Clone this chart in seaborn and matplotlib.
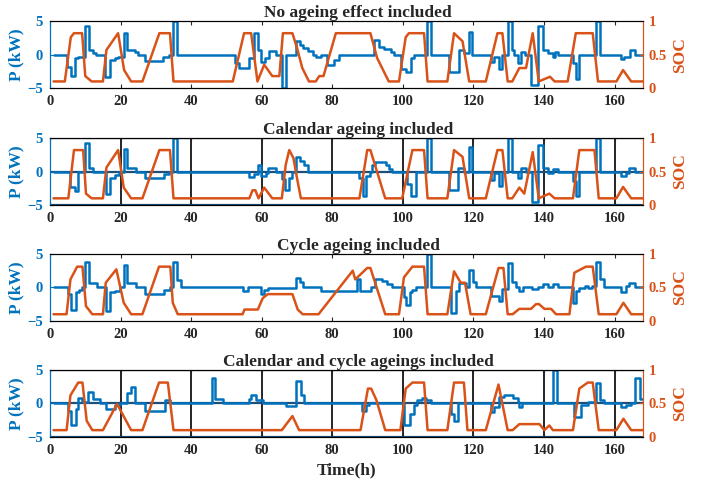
import matplotlib
matplotlib.use('Agg')
import matplotlib.pyplot as plt
import seaborn as sns

sns.set_style('ticks')
plt.rcParams['font.family'] = ['Liberation Serif', 'DejaVu Serif']
plt.rcParams['font.weight'] = 'bold'

BLUE = '#0072BD'
ORANGE = '#D95319'

# ---- datos (P en kW, escalon; SOC lineal) ----
titles = ['No ageing effect included', 'Calendar ageing included',
          'Cycle ageing included', 'Calendar and cycle ageings included']

# Panel 1
p1_t = [1, 4.7, 5.9, 7, 8, 9.9, 11.1, 12.2, 13, 15.5, 17, 18.4, 19.3, 20.9, 21.9, 24, 25, 27, 32, 33.8,
        34.8, 36, 52.5, 53.7, 56.3, 57.7, 58.9, 59.8, 61, 62.1, 64, 65.7, 67, 69.7, 70.9, 71.8, 73, 74.4,
        75.3, 76.7, 78.6, 80.5, 82, 91.9, 93.2, 94.6, 96.5, 97.5, 99.6, 100.8, 102.2, 103.1, 106.7, 107.9,
        113, 115.9, 117.3, 118.8, 119.7, 125, 125.9, 127.1, 128.2, 129.9, 130.9, 131.5, 132.5, 133.5,
        134.5, 136.3, 138.3, 139.6, 141, 142.5, 143, 143.9, 148.2, 149.1, 150, 154.8, 155.9, 161.9,
        162.8, 164.3, 165.7, 168]
p1_v = [0, -1.8, -3.2, -0.5, -0.3, 4.3, 0.7, 0.2, 0, -3.3, -0.8, -0.55, -0.3, 3.3, 0.7, 0.45, 0, -0.9, -0.3, 0,
        5, 0, -1.3, -2, -0.5, 3.2, 0.7, -1.1, -0.5, 0.5, 0, -5, 0, 2, 1.5, 1, 0.6, 0,
        -0.3, 0, -1.6, -0.8, 0, 2.2, 1.2, 0.8, 0.45, 0, -2.1, -2.6, -0.55, 0, 5, 0,
        -2.6, 0.7, 0.2, 3.4, 0, -1.1, -0.3, -2.1, 0, 5, 0.7, 0, -1.3, 0.45,
        0, -4.6, 4.3, 0.7, 0.2, -0.3, 0.45, 0, -1.3, -3.6, 0, 5, 0, -0.7,
        -0.3, 0.7, 0, 0]
soc1_t = [1, 4.2, 5.9, 6.8, 9.1, 10, 11.8, 15, 16, 19.3, 21, 23, 26.2, 31, 34, 35, 51.8, 55, 57, 58.8,
          60.7, 63, 65, 66, 68.7, 70, 71.5, 73.4, 75.3, 76.3, 77.5, 81, 90.8, 92.7, 96, 98.9, 100.8,
          101.7, 106, 107, 112.6, 114.5, 116.9, 118.8, 123.5, 126.8, 128.2, 129.7, 131, 133, 134.9,
          136.8, 138.5, 141.7, 143, 146.7, 149, 153.8, 155.3, 160.5, 162.4, 164.7, 168]
soc1_v = [0.1, 0.1, 0.76, 0.82, 0.82, 0.18, 0.1, 0.1, 0.57, 0.82, 0.27, 0.1, 0.1, 0.82, 0.82, 0.1, 0.1, 0.82, 0.82, 0.1,
          0.35, 0.18, 0.18, 0.82, 0.82, 0.6, 0.3, 0.1, 0.1, 0.18, 0.18, 0.82, 0.82, 0.45, 0.1, 0.1, 0.76,
          0.82, 0.82, 0.1, 0.1, 0.82, 0.7, 0.1, 0.1, 0.82, 0.82, 0.1, 0.1, 0.3, 0.3,
          0.82, 0.1, 0.17, 0.1, 0.1, 0.82, 0.82, 0.1, 0.1, 0.27, 0.1, 0.1]

# Panel 2
p2_t = [1, 5.6, 7.1, 8, 9.9, 11.1, 12.2, 15.8, 17, 18.4, 19.6, 20.9, 21.9, 24.3, 27, 32.2, 33.8, 34.8, 36.1,
        56.5, 57.9, 58.9, 59.8, 61.2, 61.7, 64, 65.7, 66.6, 67.8, 68.7, 69.7, 70.8, 71.9, 73, 87.5, 88.6,
        89.6, 90.8, 91.2, 92.2, 95.1, 96, 97, 101.2, 102.2, 103.6, 106.7, 107.9, 113.1, 115.5, 117.3,
        118.6, 119.7, 124.9, 125.9, 127.1, 128.2, 129.7, 130.8, 132.7, 133.6, 134.9, 136.6, 138.2,
        139.6, 141, 142.5, 143.9, 148.2, 149.1, 150, 154.8, 155.9, 161.9, 163.1, 164.1, 165.7, 168]
p2_v = [0, -2.3, -2.9, 0, 4.3, 0.5, 0, -3.3, -0.9, -0.5, 0, 3.4, 0.6, 0, -0.9, -0.4, 0, 5, 0,
        -0.8, -0.3, 0.9, -0.65, -0.2, 0.5, 0, -1.1, -2.8, -0.9, 0, 2.1, 1.6, 1, 0, -0.9, -3.7,
        -0.6, 0, 1, 1.4, 0.95, 0.45, 0, -1.9, -3.7, 0, 5, 0, -2.7, 0.6, 0,
        3.6, 0, -1.2, -0.2, -2.2, 0, 5, 0, -0.9, 0.6, 0, -4.6, 3.9,
        0.6, -0.15, 0.35, 0, -1.4, -3.6, 0, 5, 0, -0.65, -0.15, 0.6, 0, 0]
soc2_t = [1, 5.2, 6.8, 9.4, 10.2, 11.8, 15, 16, 19.3, 20.9, 23, 26.2, 31, 34, 35, 56.5, 57.4, 58.2, 59.1,
          60.7, 63, 65.7, 66.8, 67.8, 69, 70, 71.1, 87.7, 89.9, 90.8, 95, 99.8, 102.7, 106, 107, 112.6,
          114.5, 116.9, 118.8, 123.5, 126.8, 128.2, 129.7, 131, 133, 134.4, 136.8, 138.5, 141.5, 143,
          148.2, 150, 154.3, 155.5, 160.5, 162.4, 164.7, 168]
soc2_v = [0.1, 0.1, 0.82, 0.82, 0.17, 0.1, 0.1, 0.56, 0.82, 0.26, 0.1, 0.1, 0.82, 0.82, 0.1, 0.1, 0.22, 0.22, 0.1,
          0.26, 0.1, 0.1, 0.6, 0.82, 0.7, 0.4, 0.1, 0.1, 0.82, 0.82, 0.1, 0.1, 0.82, 0.82, 0.1, 0.1,
          0.82, 0.72, 0.1, 0.1, 0.82, 0.82, 0.1, 0.1, 0.26, 0.17, 0.79, 0.1, 0.17, 0.1,
          0.1, 0.82, 0.82, 0.1, 0.1, 0.27, 0.1, 0.1]

# Panel 3
p3_t = [1, 5.2, 5.9, 7.3, 8.3, 9.2, 9.9, 11.1, 13.2, 15.8, 17, 18.4, 19.8, 20.9, 21.9, 24.5, 27, 32.2, 34.1,
        34.8, 36.1, 37.2, 54.6, 56, 59.8, 60.7, 61.7, 69.7, 70.9, 71.8, 76.7, 87, 87.9, 91.1, 92.2, 94.1,
        95.5, 97, 100.3, 100.8, 101.9, 102.7, 103.8, 106.7, 107.9, 113.6, 115, 115.9, 118, 118.8, 119.9,
        120.7, 124.9, 127.3, 128.2, 129.7, 130.9, 132, 133, 134, 136.5, 138.3, 139.6, 141, 142.5, 143.9,
        148.2, 149.1, 150, 151.5, 152.5, 153.5, 154.8, 155.9, 157.1, 161.9, 163.1, 164.1, 165.7, 168]
p3_v = [0, -1, -3.3, -0.75, -0.4, 0, 3.8, 0.6, 0, -3.5, -0.75, -0.5, 0, 3.3, 0.6, 0, -1, -0.4, 0,
        3.8, 1.1, 0, -0.6, 0, -1, -0.4, -0.1, 1.4, 0.75, 0, -0.5, 1.25, -0.5, 0, 1.25, 1,
        0.5, 0, -1.5, -2.6, -0.75, -0.4, 0, 5, 0, -3.8, -0.5, 0.6, 0, 2.6, 0.75,
        0, -1.25, -2, -0.25, 3.6, 0.75, 0, -0.6, 0, -0.25, 0, 0.5, 0, 0.5, 0,
        -2.3, -0.5, -0.1, 0.2, -0.1, 0.2, 3.8, 1.25, 0, -0.75, 0.25, 0.6, 0, 0]
soc3_t = [1, 4.7, 5.8, 7.7, 9.2, 10.2, 12, 15, 15.8, 18.8, 20.9, 23, 26.2, 30.9, 34.1, 34.8, 36.2, 54.6, 55.1,
          58.9, 60.3, 61.7, 68.7, 70.2, 71.6, 76.1, 85.8, 86.5, 89.9, 90.8, 95, 98.9, 100.3, 102.7, 106,
          107, 112.6, 114.5, 116.4, 117.6, 119.2, 123.5, 127.1, 128.5, 129.7, 131.1, 133, 136.3, 137.7,
          138.6, 140.1, 142, 143.4, 147.2, 148.6, 151.9, 153.8, 155.5, 160.5, 162.5, 164.7, 168]
soc3_v = [0.1, 0.1, 0.62, 0.81, 0.81, 0.22, 0.1, 0.1, 0.57, 0.77, 0.27, 0.1, 0.1, 0.81, 0.81, 0.27, 0.1, 0.1, 0.17,
          0.17, 0.34, 0.4, 0.4, 0.17, 0.1, 0.1, 0.75, 0.62, 0.79, 0.79, 0.1, 0.1, 0.65, 0.81, 0.81,
          0.1, 0.1, 0.74, 0.57, 0.57, 0.1, 0.1, 0.79, 0.79, 0.1, 0.1, 0.18, 0.18, 0.25,
          0.25, 0.18, 0.18, 0.1, 0.1, 0.72, 0.81, 0.81, 0.1, 0.1, 0.27, 0.1, 0.1]

# Panel 4
p4_t = [1, 5.2, 5.9, 7.3, 8, 9, 10.8, 12.2, 14.1, 16, 18.4, 19.8, 21.9, 22.9, 24, 27, 32.5, 34.1, 45.9, 46.9,
        49, 56.3, 57, 58.4, 60.3, 66.9, 69.7, 71.1, 72, 88.4, 89.6, 90.5, 100.3, 101.9, 103.1, 104, 105.4,
        106.6, 107.9, 113.6, 114.5, 115.7, 124.9, 125.9, 127.3, 128.7, 131.1, 132.5, 133, 133.7, 142.5,
        143.6, 148.6, 150.5, 152.4, 154.8, 155.9, 157.1, 161.9, 163.1, 164.7, 165.9, 167.1, 168]
p4_v = [0, -1.1, -3.3, -0.8, 0.8, 0.2, 1.7, 0.7, 0, -0.8, -0.2, 0, 1.5, 2.5, 0, -1.1, 0.5, 0, 3.8, 0.7,
        0, 0.7, 1.2, 0.45, 0, -0.45, 3.3, 1.2, 0, -1.1, -0.3, 0, -3.3, -1.6, -0.3, 0.45, 0.8,
        0.45, 0, -1.6, -2.6, 0, -1.3, -0.6, 1, 1.2, 0.8, 0.2, -0.6, 0, 5,
        0, -2, -0.3, 0.2, 3, 0.45, 0, -0.6, -0.2, 0, 3.8, 0.7, 0.7]
soc4_t = [1, 4.7, 5.8, 8, 9.2, 10.4, 12, 15, 19, 23, 26.2, 30.9, 33.4, 35, 65.7, 68.7, 70.6, 88, 90.1, 91,
          92.5, 95, 99.3, 100.8, 102.7, 106, 107, 112.6, 114.5, 117.3, 118.3, 123.5, 127.1, 129.7, 131.1,
          133, 138.7, 140.1, 141.5, 142.5, 148.2, 150, 152.4, 153.8, 155.5, 160.5, 162.5, 164.7, 168]
soc4_v = [0.1, 0.1, 0.62, 0.81, 0.81, 0.24, 0.1, 0.1, 0.49, 0.1, 0.1, 0.81, 0.81, 0.1, 0.1, 0.31, 0.1, 0.1, 0.72, 0.72,
          0.55, 0.1, 0.1, 0.72, 0.81, 0.81, 0.1, 0.1, 0.81, 0.81, 0.1, 0.1, 0.78, 0.1, 0.1,
          0.19, 0.19, 0.1, 0.17, 0.1, 0.1, 0.72, 0.81, 0.81, 0.1, 0.1, 0.27, 0.1, 0.1]

paneles = [(p1_t, p1_v, soc1_t, soc1_v, False),
           (p2_t, p2_v, soc2_t, soc2_v, True),
           (p3_t, p3_v, soc3_t, soc3_v, False),
           (p4_t, p4_v, soc4_t, soc4_v, True)]

fig = plt.figure(figsize=(7.1, 4.87), dpi=100)
bottoms = [0.819, 0.579, 0.341, 0.103]
left, width, height = 0.0704, 0.835, 0.1376

for i, (pt, pv, st, sv, con_grid) in enumerate(paneles):
    ax = fig.add_axes([left, bottoms[i], width, height])
    if con_grid:
        for x in range(20, 161, 20):
            ax.axvline(x, color='k', lw=1.2, zorder=0)
        for y in (-5, 0, 5):
            ax.axhline(y, color='#1f4e79', lw=1.6, zorder=0)
    sns.lineplot(x=pt, y=pv, ax=ax, color=BLUE, lw=1.8, drawstyle='steps-post',
                 estimator=None, sort=False)
    ax.set_xlim(0, 168)
    ax.set_ylim(-5, 5)
    ax.set_xticks(range(0, 161, 20))
    ax.set_yticks([-5, 0, 5])
    ax.tick_params(direction='in', top=True, length=3, labelsize=10.5, pad=5)
    ax.tick_params(axis='y', colors=BLUE)
    ax.set_ylabel('P (kW)', color=BLUE, fontsize=12.5, fontweight='bold', labelpad=2)
    ax.set_xlabel('')
    ax.set_title(titles[i], fontsize=12.5, fontweight='bold', pad=3, x=0.52)

    ax2 = ax.twinx()
    sns.lineplot(x=st, y=sv, ax=ax2, color=ORANGE, lw=1.8, estimator=None, sort=False)
    ax2.set_ylim(0, 1)
    ax2.set_yticks([0, 0.5, 1])
    ax2.set_yticklabels(['0', '0.5', '1'])
    ax2.tick_params(direction='in', length=3, labelsize=10.5, colors=ORANGE, pad=4)
    ax2.set_ylabel('SOC', color=ORANGE, fontsize=12.5, fontweight='bold', labelpad=4)
    ax2.set_xlabel('')
    for a in (ax, ax2):
        a.spines['left'].set_color(BLUE)
        a.spines['right'].set_color(ORANGE)
        a.spines['top'].set_color('k')
        a.spines['bottom'].set_color('k')
    if i == 3:
        ax.set_xlabel('Time(h)', fontsize=12.5, fontweight='bold', labelpad=4)

plt.savefig('out.png', dpi=100)
plt.close()
